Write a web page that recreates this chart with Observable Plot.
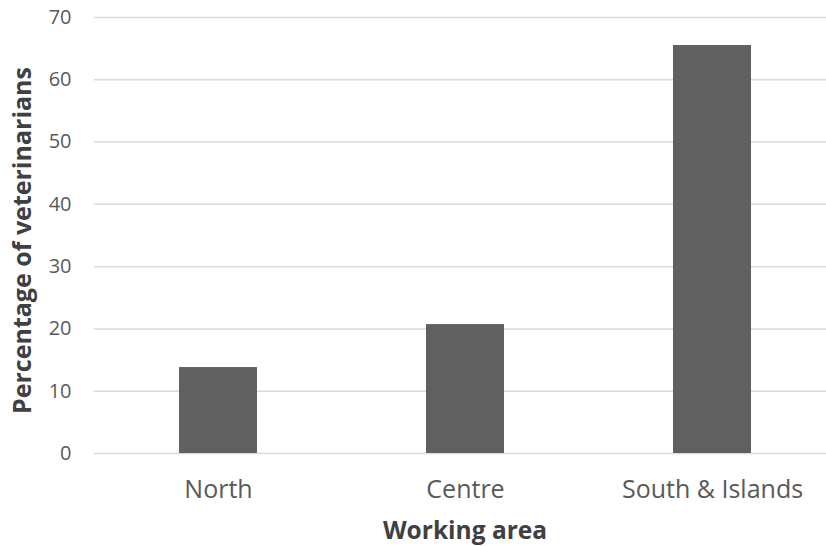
<!DOCTYPE html>
<html>
<head>
<meta charset="utf-8">
<script src="https://cdn.jsdelivr.net/npm/d3@7"></script>
<script src="https://cdn.jsdelivr.net/npm/@observablehq/plot@0.6"></script>
<style>
  html, body { margin: 0; padding: 0; background: #fff; }
  #chart svg { display: block; }
</style>
</head>
<body>
<div id="chart"></div>
<script>
const areas = ["North", "Centre", "South & Islands"];
const percentages = [13.8, 20.7, 65.5];
const yTicks = [0, 10, 20, 30, 40, 50, 60, 70];
const yTitle = "Percentage of veterinarians";
const xTitle = "Working area";

const data = areas.map((a, i) => ({area: a, value: percentages[i]}));

const chart = Plot.plot({
  width: 826,
  height: 546,
  marginLeft: 94,
  marginRight: -9,
  marginTop: 17,
  marginBottom: 93,
  style: {fontFamily: "'Open Sans', sans-serif", background: "#fff", overflow: "hidden"},
  x: {domain: areas, paddingInner: 0.686, paddingOuter: 0.343, label: null},
  y: {domain: [0, 70], label: null},
  marks: [
    Plot.gridY(yTicks, {stroke: "#d9d9d9", strokeOpacity: 1, strokeWidth: 1.5}),
    Plot.barY(data, {x: "area", y: "value", fill: "#606060"}),
    Plot.axisY(yTicks, {tickSize: 0, tickPadding: 23, fontSize: 20, color: "#595959", label: null}),
    Plot.axisX({tickSize: 0, tickPadding: 27, fontSize: 25, color: "#595959", label: null}),
    Plot.text([yTitle], {frameAnchor: "left", text: d => d, rotate: -90, textAnchor: "middle", dx: -72, dy: 5, fontSize: 25, fontWeight: "bold", fill: "#404040"}),
    Plot.text([xTitle], {frameAnchor: "bottom", text: d => d, dx: 0, dy: 85, fontSize: 24.5, fontWeight: "bold", fill: "#404040"})
  ]
});
document.getElementById("chart").appendChild(chart);
</script>
</body>
</html>
